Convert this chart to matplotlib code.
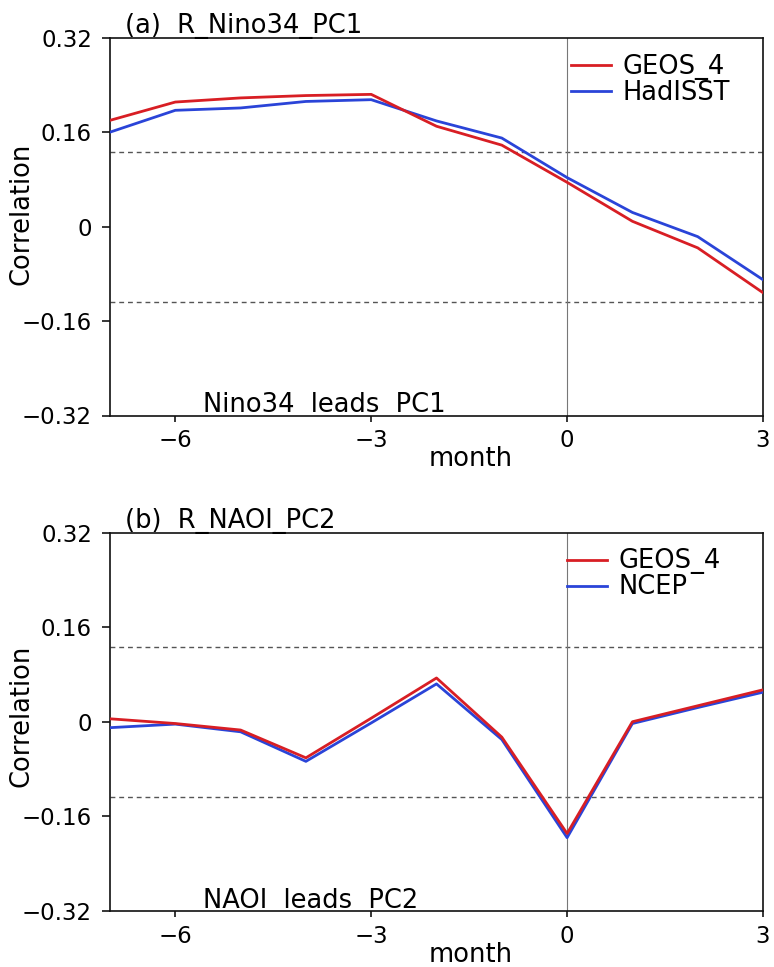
import matplotlib
matplotlib.use("Agg")
import matplotlib.pyplot as plt
import numpy as np

# ---- data ----
months = [-7, -6, -5, -4, -3, -2, -1, 0, 1, 2, 3]
xticks = [-6, -3, 0, 3]
xtick_labels = ["\u22126", "\u22123", "0", "3"]
yticks = [-0.32, -0.16, 0, 0.16, 0.32]
ytick_labels = ["\u22120.32", "\u22120.16", "0", "0.16", "0.32"]
sig_level = 0.127

a_geos = [0.180, 0.211, 0.218, 0.222, 0.224, 0.170, 0.138, 0.075, 0.009, -0.036, -0.112]
a_hadisst = [0.160, 0.197, 0.201, 0.212, 0.215, 0.179, 0.150, 0.083, 0.024, -0.017, -0.090]

b_geos = [0.005, -0.003, -0.014, -0.061, 0.006, 0.074, -0.026, -0.189, 0.000, 0.027, 0.054]
b_ncep = [-0.010, -0.004, -0.017, -0.067, -0.002, 0.064, -0.030, -0.196, -0.003, 0.024, 0.050]

panels = [
    dict(title="(a)  R_Nino34_PC1", note="Nino34  leads  PC1",
         s1=a_geos, s2=a_hadisst, l1="GEOS_4", l2="HadISST"),
    dict(title="(b)  R_NAOI_PC2", note="NAOI  leads  PC2",
         s1=b_geos, s2=b_ncep, l1="GEOS_4", l2="NCEP"),
]

W, H = 774, 967
fig = plt.figure(figsize=(W / 100, H / 100), dpi=100)
plt.rcParams['font.family'] = ['DejaVu Sans']
FS_TICK = 16.5
FS_TXT = 18.5

RED = "#d81e24"
BLUE = "#2a44d8"

left_px, right_px = 110, 763
boxes = [(37.7, 415.5), (532.5, 911)]
ylabel_centers = [214, 716]
legend_x = [571, 567]

for i, p in enumerate(panels):
    top, bot = boxes[i]
    hpx = bot - top
    wpx = right_px - left_px
    ax = fig.add_axes([left_px / W, (H - bot) / H, wpx / W, hpx / H])
    ax.set_xlim(-7, 3)
    ax.set_ylim(-0.32, 0.32)
    ax.axhline(sig_level, color="#555555", lw=1.0, ls=(0, (3.5, 2.8)), zorder=1)
    ax.axhline(-sig_level, color="#555555", lw=1.0, ls=(0, (3.5, 2.8)), zorder=1)
    ax.axvline(0, color="#777777", lw=0.8, zorder=1)
    ax.plot(months, p["s2"], color=BLUE, lw=2.0, label=p["l2"], zorder=3)
    ax.plot(months, p["s1"], color=RED, lw=2.0, label=p["l1"], zorder=4)

    ax.set_xticks(xticks)
    ax.set_xticklabels(xtick_labels)
    ax.set_yticks(yticks)
    ax.set_yticklabels(ytick_labels)
    ax.tick_params(axis="both", direction="out", labelsize=FS_TICK, width=1.1, color="black")
    ax.tick_params(axis="y", length=6, pad=7)
    ax.tick_params(axis="x", length=4, pad=6)
    for s in ax.spines.values():
        s.set_linewidth(1.2)
        s.set_color("#111111")

    # title
    ax.text(15 / wpx, 1 + 4.4 / hpx, p["title"], transform=ax.transAxes,
            fontsize=FS_TXT, va="baseline", ha="left")
    # note inside
    ax.text((203 - left_px) / wpx, 3.5 / hpx, p["note"], transform=ax.transAxes,
            fontsize=FS_TXT, va="baseline", ha="left")
    # xlabel
    ax.text((471 - left_px) / wpx, -51 / hpx, "month", transform=ax.transAxes,
            fontsize=FS_TXT, va="baseline", ha="center")
    # ylabel
    fig.text(22 / W, (H - ylabel_centers[i]) / H, "Correlation", rotation=90,
             fontsize=FS_TXT, va="center", ha="center")

    h, l = ax.get_legend_handles_labels()
    ax.legend(h[::-1], l[::-1], loc="upper left",
              bbox_to_anchor=((legend_x[i] - left_px) / wpx, 1 - 16 / hpx),
              frameon=False, fontsize=FS_TXT, handlelength=1.55, handletextpad=0.45,
              labelspacing=0.0, borderpad=0, borderaxespad=0)

fig.savefig("out.png", dpi=100)
